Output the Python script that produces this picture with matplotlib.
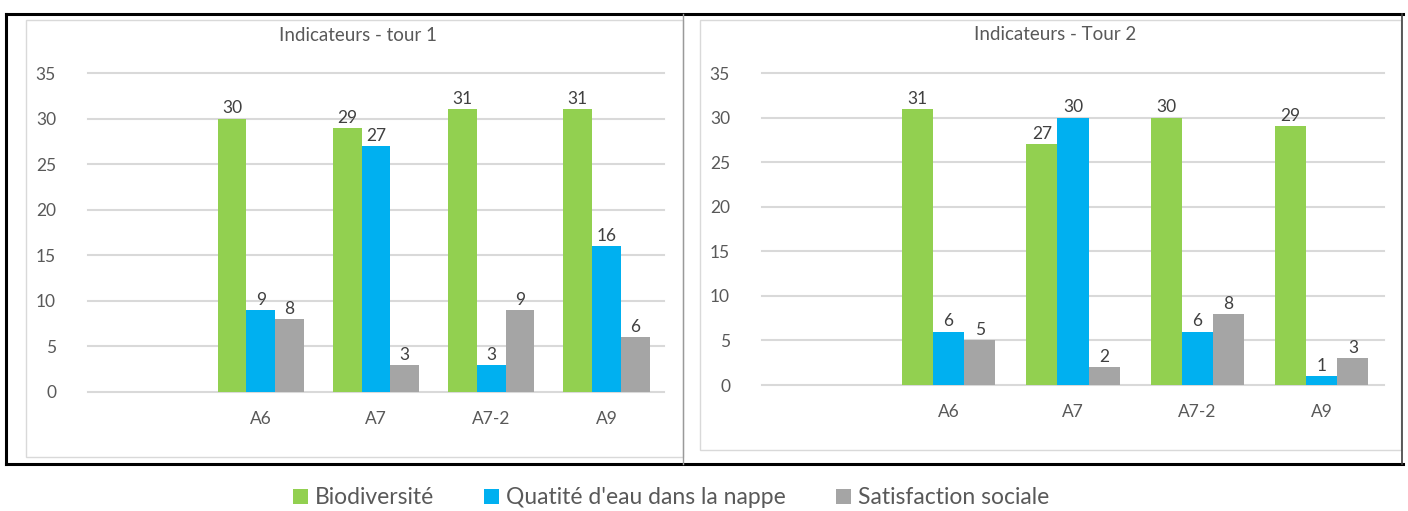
import numpy as np
import matplotlib
matplotlib.use('Agg')
import matplotlib.pyplot as plt
from matplotlib.patches import Rectangle
from matplotlib.lines import Line2D

plt.rcParams['font.family'] = ['Lato', 'DejaVu Sans']

# ── Data ──────────────────────────────────────────────────────────────────────
CATS = ['', 'A6', 'A7', 'A7-2', 'A9']
SERIES = ['Biodiversité', "Quatité d'eau dans la nappe", 'Satisfaction sociale']

bio_t1  = [np.nan, 30, 29, 31, 31]
eau_t1  = [np.nan, 9, 27, 3, 16]
sat_t1  = [np.nan, 8, 3, 9, 6]

bio_t2  = [np.nan, 31, 27, 30, 29]
eau_t2  = [np.nan, 6, 30, 6, 1]
sat_t2  = [np.nan, 5, 2, 8, 3]

TITLES = ['Indicateurs - tour 1', 'Indicateurs - Tour 2']

# ── Style ─────────────────────────────────────────────────────────────────────
GREEN = '#92d050'
BLUE  = '#00b0f0'
GREY  = '#a5a5a5'
COLORS = [GREEN, BLUE, GREY]
TXT   = '#595959'
LBL   = '#404040'
GRID  = '#d9d9d9'

W, H = 1408, 511
fig = plt.figure(figsize=(W / 100, H / 100), dpi=100, facecolor='white')


def fx(px):
    return px / W


def fy(py):
    return 1 - py / H


def draw_panel(rect, data, title, title_xy):
    ax = fig.add_axes(rect)
    x = np.arange(len(CATS))
    bw = 0.25
    bars = []
    for i, (vals, col) in enumerate(zip(data, COLORS)):
        b = ax.bar(x + (i - 1) * bw, vals, bw, color=col, zorder=2, label=SERIES[i])
        bars.append(b)
        for xi, v in zip(x, vals):
            if np.isnan(v):
                continue
            ax.annotate(f'{v:g}', (xi + (i - 1) * bw, v), xytext=(0, 1.5),
                        textcoords='offset points', ha='center', va='bottom',
                        fontsize=12.5, color=LBL, zorder=3)
    ax.set_xlim(-0.5, len(CATS) - 0.5)
    ax.set_ylim(0, 35)
    ax.set_yticks(np.arange(0, 36, 5))
    ax.set_xticks(x)
    ax.set_xticklabels(CATS)
    ax.tick_params(axis='both', length=0, labelsize=12.5, colors=TXT)
    ax.tick_params(axis='y', pad=23)
    ax.tick_params(axis='x', pad=14)
    for s in ax.spines.values():
        s.set_visible(False)
    ax.set_axisbelow(True)
    ax.yaxis.grid(True, color=GRID, lw=1.5)
    for gl in ax.get_ygridlines():
        gl.set_clip_on(False)
    fig.text(fx(title_xy[0]), fy(title_xy[1]), title, ha='center', va='center',
             fontsize=13.5, color=TXT)
    return ax, bars


# chart-area borders
fig.patches.append(Rectangle((fx(26), fy(457)), fx(683 - 26), fy(20) - fy(457),
                             transform=fig.transFigure, fill=False, ec=GRID, lw=1))
fig.patches.append(Rectangle((fx(700), fy(450)), fx(1401 - 700), fy(20) - fy(450),
                             transform=fig.transFigure, fill=False, ec=GRID, lw=1))

ax1, bars1 = draw_panel([fx(88), fy(392), fx(664 - 88), fy(73) - fy(392)],
                        [bio_t1, eau_t1, sat_t1], TITLES[0], (358, 35))
ax2, bars2 = draw_panel([fx(762), fy(385), fx(1384 - 762), fy(73) - fy(385)],
                        [bio_t2, eau_t2, sat_t2], TITLES[1], (1055, 34))

# outer black frame and divider
fig.lines.append(Line2D([fx(6), fx(1403)], [fy(14), fy(14)], transform=fig.transFigure,
                        color='black', lw=2.2))
fig.lines.append(Line2D([fx(6), fx(1403)], [fy(464), fy(464)], transform=fig.transFigure,
                        color='black', lw=2.2))
fig.lines.append(Line2D([fx(6), fx(6)], [fy(14), fy(464)], transform=fig.transFigure,
                        color='black', lw=2.2))
fig.lines.append(Line2D([fx(1402), fx(1402)], [fy(14), fy(464)], transform=fig.transFigure,
                        color='#404040', lw=1.2))
fig.lines.append(Line2D([fx(682.5), fx(682.5)], [fy(14), fy(464)], transform=fig.transFigure,
                        color='#9a9a9a', lw=1))

# legend
fig.legend(handles=bars1, labels=SERIES, loc='center', bbox_to_anchor=(fx(671), fy(498)),
           ncol=3, frameon=False, fontsize=16.5, labelcolor=TXT,
           handlelength=0.65, handleheight=0.65, handletextpad=0.3, columnspacing=2.2)

fig.savefig('out.png', dpi=100, facecolor='white')
